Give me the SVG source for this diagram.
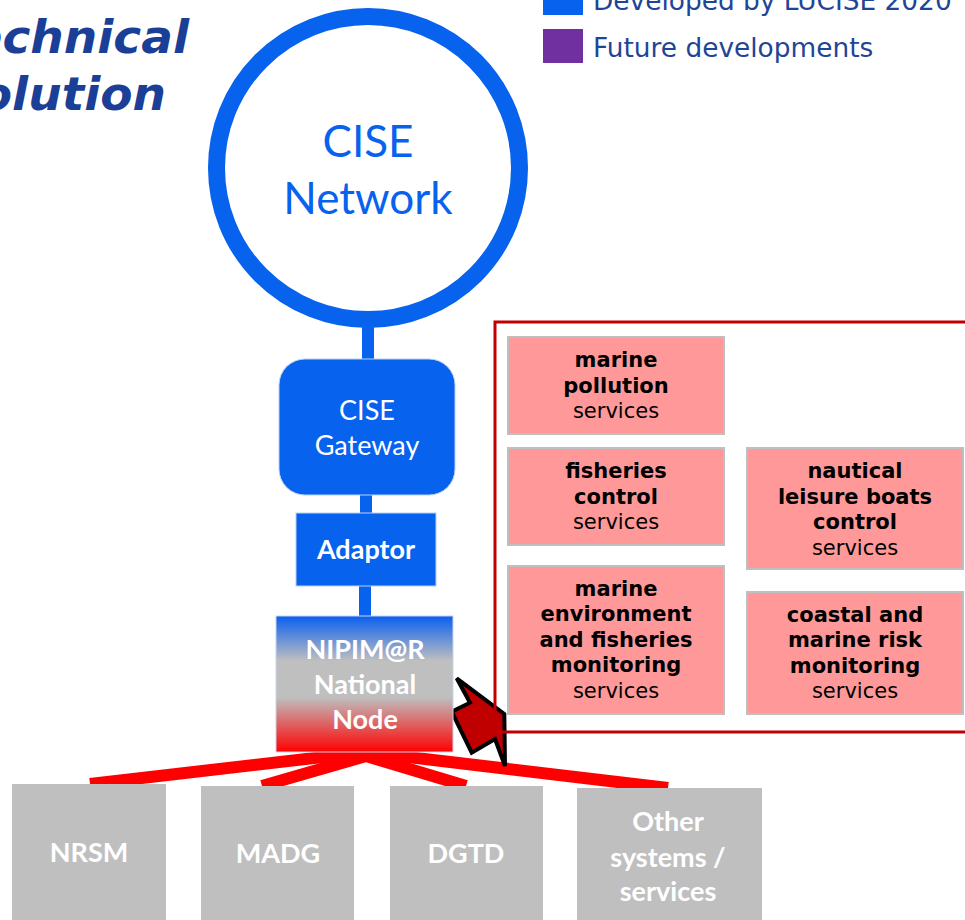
<svg xmlns="http://www.w3.org/2000/svg" width="965" height="920" viewBox="0 0 965 920">
<style>
.title{font-family:"DejaVu Sans",Verdana,sans-serif;font-weight:bold;font-style:italic;font-size:47px;fill:#1b3f96}
.legend{font-family:"DejaVu Sans",Verdana,sans-serif;font-size:26.4px;fill:#1f4597}
.cal{font-family:Lato,"Liberation Sans",sans-serif;text-anchor:middle}
.w{fill:#ffffff}
.b{font-weight:bold}
.svc{fill:#ff9999;stroke:#bfbfbf;stroke-width:2}
.st{font-family:"DejaVu Sans",Verdana,sans-serif;font-size:21px;text-anchor:middle;fill:#000}
.sb{font-weight:bold}
.sys{fill:#bfbfbf}
.blue{stroke:#0762ee;stroke-width:12;fill:none}
.red{stroke:#ff0000;stroke-width:12;fill:none}
</style>
<defs>
<linearGradient id="nodeGrad" x1="0" y1="0" x2="0" y2="1">
<stop offset="0" stop-color="#0a5ff0"/>
<stop offset="0.33" stop-color="#bfbfbf"/>
<stop offset="0.6" stop-color="#bfbfbf"/>
<stop offset="1" stop-color="#ff0000"/>
</linearGradient>
</defs>
<rect width="965" height="920" fill="#ffffff"/>

<g id="title">
<text class="title" x="189" y="53" text-anchor="end">Technical</text>
<text class="title" x="166" y="110" text-anchor="end">Solution</text>
</g>

<g id="legend">
<rect x="543" y="-20" width="40" height="35" fill="#0762ee"/>
<text class="legend" x="593" y="10">Developed by LUCISE 2020</text>
<rect x="543" y="29" width="40" height="34" fill="#7030a0"/>
<text class="legend" x="593" y="57">Future developments</text>
</g>

<g id="connectors">
<line class="blue" x1="368" y1="320" x2="368" y2="362"/>
<line class="blue" x1="366" y1="492" x2="366" y2="515"/>
<line class="blue" x1="365" y1="584" x2="365" y2="618"/>
<polyline class="red" points="90,784 366,752 668,788"/>
<polyline class="red" points="262,786 366,756 466,786"/>
<polygon points="456.7,678.3 470,702.7 451.7,711.7 471.7,752.7 495,739 505,766 504.3,714" fill="#c00000" stroke="#000" stroke-width="4" stroke-linejoin="miter"/>
</g>

<g id="cise-network">
<circle cx="368" cy="168" r="151.5" fill="#fff" stroke="#0762ee" stroke-width="17"/>
<text class="cal" x="368" y="157" font-size="44" fill="#0762ee">CISE</text>
<text class="cal" x="368" y="214" font-size="44" fill="#0762ee">Network</text>
</g>

<g id="cise-gateway">
<rect x="279" y="359" width="176" height="136" rx="26" fill="#0762ee" stroke="#bcd0f5" stroke-width="1"/>
<text class="cal w" x="367" y="420" font-size="27">CISE</text>
<text class="cal w" x="367" y="455" font-size="27">Gateway</text>
</g>

<g id="adaptor">
<rect x="296" y="513" width="140" height="73" fill="#0762ee" stroke="#bcd0f5" stroke-width="1"/>
<text class="cal w b" x="366" y="559" font-size="27">Adaptor</text>
</g>

<g id="services-frame">
<rect x="495" y="322" width="480" height="410" fill="none" stroke="#c00000" stroke-width="3"/>
</g>

<g id="svc-marine-pollution">
<rect class="svc" x="508" y="337" width="216" height="97"/>
<text class="st sb" x="616" y="367">marine</text>
<text class="st sb" x="616" y="393">pollution</text>
<text class="st" x="616" y="418">services</text>
</g>

<g id="svc-fisheries-control">
<rect class="svc" x="508" y="448" width="216" height="97"/>
<text class="st sb" x="616" y="478">fisheries</text>
<text class="st sb" x="616" y="504">control</text>
<text class="st" x="616" y="529">services</text>
</g>

<g id="svc-nautical">
<rect class="svc" x="747" y="448" width="216" height="121"/>
<text class="st sb" x="855" y="478">nautical</text>
<text class="st sb" x="855" y="504">leisure boats</text>
<text class="st sb" x="855" y="529">control</text>
<text class="st" x="855" y="555">services</text>
</g>

<g id="svc-marine-environment">
<rect class="svc" x="508" y="566" width="216" height="148"/>
<text class="st sb" x="616" y="596">marine</text>
<text class="st sb" x="616" y="621">environment</text>
<text class="st sb" x="616" y="647">and fisheries</text>
<text class="st sb" x="616" y="672">monitoring</text>
<text class="st" x="616" y="698">services</text>
</g>

<g id="svc-coastal">
<rect class="svc" x="747" y="592" width="216" height="122"/>
<text class="st sb" x="855" y="622">coastal and</text>
<text class="st sb" x="855" y="647">marine risk</text>
<text class="st sb" x="855" y="673">monitoring</text>
<text class="st" x="855" y="698">services</text>
</g>

<g id="nipimar-node">
<rect x="276" y="616" width="177" height="136" fill="url(#nodeGrad)" stroke="#c8d4ec" stroke-width="1"/>
<text class="cal w b" x="365" y="659" font-size="27">NIPIM@R</text>
<text class="cal w b" x="365" y="694" font-size="27">National</text>
<text class="cal w b" x="365" y="729" font-size="27">Node</text>
</g>

<g id="nrsm">
<rect class="sys" x="12" y="784" width="154" height="140"/>
<text class="cal w b" x="89" y="862" font-size="27">NRSM</text>
</g>
<g id="madg">
<rect class="sys" x="201" y="786" width="153" height="140"/>
<text class="cal w b" x="278" y="863" font-size="27">MADG</text>
</g>
<g id="dgtd">
<rect class="sys" x="390" y="786" width="153" height="140"/>
<text class="cal w b" x="466" y="863" font-size="27">DGTD</text>
</g>
<g id="other">
<rect class="sys" x="577" y="788" width="185" height="140"/>
<text class="cal w b" x="668" y="831" font-size="27">Other</text>
<text class="cal w b" x="668" y="867" font-size="27">systems /</text>
<text class="cal w b" x="668" y="901" font-size="27">services</text>
</g>
</svg>
